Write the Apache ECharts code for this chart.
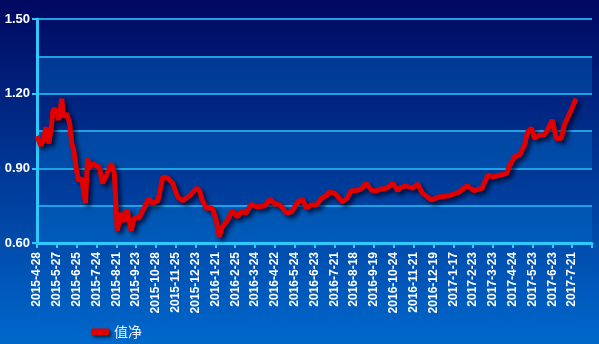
<!DOCTYPE html>
<html><head><meta charset="utf-8">
<script src="https://cdn.jsdelivr.net/npm/echarts@6/dist/echarts.min.js"></script>
<style>html,body{margin:0;padding:0;background:#000;}#c{width:599px;height:344px;}</style>
</head><body><div id="c"></div>
<script>
// x-axis tick labels (one every 20 trading days)
var tickLabels = ['2015-4-28','2015-5-27','2015-6-25','2015-7-24','2015-8-21','2015-9-23','2015-10-28','2015-11-25','2015-12-23',
  '2016-1-21','2016-2-25','2016-3-24','2016-4-22','2016-5-24','2016-6-23','2016-7-21','2016-8-18','2016-9-19','2016-10-24','2016-11-21','2016-12-19',
  '2017-1-17','2017-2-23','2017-3-23','2017-4-24','2017-5-23','2017-6-23','2017-7-21'];
// trading-day index of each sampled point
var dayIndex = [0,4,7,9,12,14,16,18,22,25,27,30,33,35,37,40,42,45,49,51,53,56,60,63,66,70,75,78,81,85,88,91,95,98,103,108,113,116,122,127,132,137,142,147,154,161,164,167,171,177,181,184,187,192,197,202,206,211,216,222,230,235,240,245,252,257,263,268,272,277,282,287,292,295,300,303,308,313,317,322,328,332,338,343,348,353,359,364,366,372,379,384,389,394,398,406,416,426,434,441,449,455,460,467,474,477,482,487,492,495,499,502,507,512,515,520,524,529,532,535,539,542,544];
// net value (净值)
var netValue = [1.03,0.99,1.02,1.065,1.00,1.05,1.13,1.14,1.095,1.18,1.105,1.12,1.08,1.00,0.975,0.89,0.85,0.86,0.76,0.94,0.90,0.92,0.91,0.905,0.84,0.87,0.92,0.88,0.65,0.72,0.685,0.735,0.65,0.70,0.70,0.74,0.78,0.76,0.77,0.865,0.86,0.84,0.785,0.77,0.79,0.82,0.81,0.77,0.74,0.74,0.69,0.625,0.665,0.69,0.73,0.705,0.725,0.72,0.755,0.745,0.75,0.775,0.757,0.753,0.72,0.725,0.765,0.775,0.74,0.753,0.753,0.78,0.79,0.805,0.80,0.79,0.765,0.78,0.81,0.81,0.82,0.84,0.81,0.81,0.817,0.82,0.84,0.81,0.82,0.83,0.82,0.837,0.80,0.785,0.773,0.785,0.79,0.805,0.83,0.81,0.82,0.873,0.865,0.873,0.88,0.913,0.946,0.954,0.994,1.046,1.062,1.02,1.034,1.034,1.054,1.094,1.02,1.02,1.074,1.10,1.134,1.163,1.18];
var seriesName = '值净';

var data = dayIndex.map(function(d,i){return [d, netValue[i]];});
var chart = echarts.init(document.getElementById('c'));
chart.setOption({
  animation:false,
  backgroundColor:{type:'linear',x:0,y:0,x2:0,y2:1,colorStops:[{offset:0,color:'#000860'},{offset:1,color:'#0068cc'}]},
  grid:{left:37,right:7,top:19,bottom:101},
  legend:{left:86,top:320,itemWidth:18,itemHeight:7,icon:'roundRect',itemGap:10,
    textStyle:{color:'#e8f0ff',fontSize:14,fontFamily:'Noto Sans CJK SC'},
    itemStyle:{shadowColor:'rgba(0,0,0,0.6)',shadowBlur:3,shadowOffsetX:2,shadowOffsetY:2},
    data:[seriesName]},
  xAxis:{type:'value',min:0,max:560,interval:20,
    axisLine:{lineStyle:{color:'#2fc8ff',width:3}},
    axisTick:{length:5,lineStyle:{color:'#2fc8ff',width:2}},
    splitLine:{show:false},
    axisLabel:{rotate:90,margin:9,color:'#ffffff',fontWeight:'bold',fontSize:12,fontFamily:'Liberation Sans',
      formatter:function(v){var k=Math.round(v/20);return tickLabels[k]||'';}}
  },
  yAxis:[
    {type:'value',min:0.6,max:1.5,interval:0.3,position:'left',
      axisLine:{show:true,lineStyle:{color:'#2fc8ff',width:3}},
      axisTick:{show:true,length:5,lineStyle:{color:'#2fc8ff',width:2}},
      splitLine:{show:false},
      axisLabel:{color:'#ffffff',fontWeight:'bold',fontSize:13,fontFamily:'Liberation Sans',margin:7,
        formatter:function(v){return v.toFixed(2);}}
    },
    {type:'value',min:0.6,max:1.5,interval:0.15,position:'left',
      axisLine:{show:false},axisTick:{show:false},axisLabel:{show:false},
      splitLine:{show:true,lineStyle:{color:'#1ea2e6',width:2}},
      splitArea:{show:true,areaStyle:{color:['rgba(0,120,210,0.35)','rgba(0,0,0,0)']}}
    }
  ],
  series:[{name:seriesName,type:'line',yAxisIndex:0,data:data,showSymbol:false,symbol:'none',
    lineStyle:{color:'#e00000',width:5,shadowColor:'rgba(0,0,30,0.75)',shadowBlur:4,shadowOffsetX:3,shadowOffsetY:3},
    itemStyle:{color:'#e00000'}}]
});
</script></body></html>
